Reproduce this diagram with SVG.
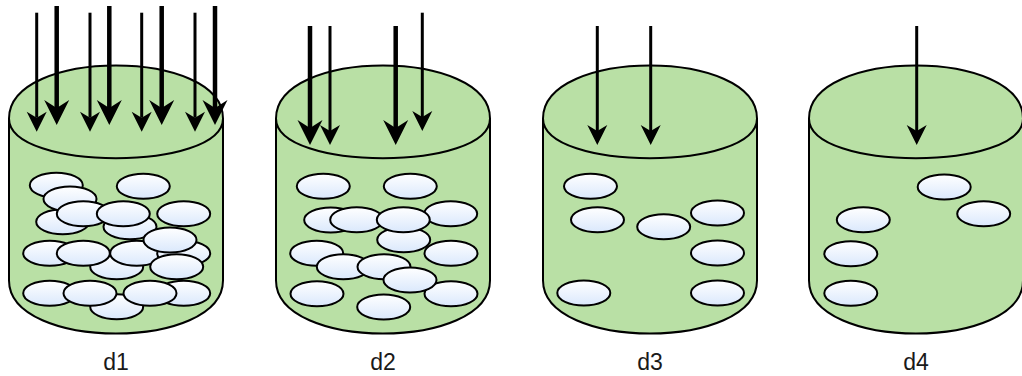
<svg xmlns="http://www.w3.org/2000/svg" xmlns:xlink="http://www.w3.org/1999/xlink" width="1022" height="376" viewBox="0 0 1022 376">
  <style>
    .tank { fill: #B9E0A5; stroke: #000000; stroke-width: 2; }
    .rim { fill: none; stroke: #000000; stroke-width: 2; }
    .pill { fill: url(#pillFill); stroke: #000000; stroke-width: 2; }
    .label { font-family: "Liberation Sans", Arial, sans-serif; font-size: 23px; fill: #1a1a1a; text-anchor: middle; }
    .thin { stroke: #000000; stroke-width: 3; fill: none; marker-end: url(#headThin); }
    .thick { stroke: #000000; stroke-width: 4.5; fill: none; marker-end: url(#headThick); }
  </style>
  <defs>
    <linearGradient id="pillFill" x1="0" y1="0" x2="0" y2="1">
      <stop offset="0" stop-color="#FFFFFF"/>
      <stop offset="1" stop-color="#DAE8FC"/>
    </linearGradient>
    <!-- small particle -->
    <ellipse id="p" class="pill" cx="0" cy="0" rx="26.5" ry="12.5"/>
    <!-- cylinder body: 214 x 268, cap depth 53 -->
    <path id="body" class="tank" d="M0,53 C0,-17.7 214,-17.7 214,53 L214,215 C214,285.7 0,285.7 0,215 Z"/>
    <path id="cap" class="rim" d="M0,53 C0,106 214,106 214,53"/>
    <!-- arrowheads; the reference point is the notch so the shaft ends there -->
    <marker id="headThin" markerUnits="userSpaceOnUse" orient="auto" refX="0" refY="0" markerWidth="30" markerHeight="30" overflow="visible">
      <path d="M14,0 L-6,-10 L0,0 L-6,10 Z" fill="#000000"/>
    </marker>
    <marker id="headThick" markerUnits="userSpaceOnUse" orient="auto" refX="0" refY="0" markerWidth="30" markerHeight="30" overflow="visible">
      <path d="M17,0 L-8,-12.5 L0,0 L-8,12.5 Z" fill="#000000"/>
    </marker>
  </defs>

  <g id="d1">
    <g transform="translate(9,65.5)">
      <use href="#body"/>
      <use href="#cap"/>
    </g>
    <use href="#p" x="56.3" y="185.3"/>
    <use href="#p" x="62.7" y="221.7"/>
    <use href="#p" x="70" y="199"/>
    <use href="#p" x="83.3" y="213.8"/>
    <use href="#p" x="143.3" y="186.2"/>
    <use href="#p" x="130" y="226.7"/>
    <use href="#p" x="123.3" y="213.8"/>
    <use href="#p" x="183.7" y="213.8"/>
    <use href="#p" x="49.7" y="253.3"/>
    <use href="#p" x="116.7" y="266.7"/>
    <use href="#p" x="83.3" y="253.3"/>
    <use href="#p" x="136.7" y="253.3"/>
    <use href="#p" x="183.7" y="253.3"/>
    <use href="#p" x="170" y="240"/>
    <use href="#p" x="176.7" y="266.7"/>
    <use href="#p" x="49.7" y="293.3"/>
    <use href="#p" x="116.7" y="306.7"/>
    <use href="#p" x="183.7" y="293.3"/>
    <use href="#p" x="90" y="293.3"/>
    <use href="#p" x="150" y="293.3"/>
    <text class="label" x="116" y="370">d1</text>
  </g>

  <g id="d2">
    <g transform="translate(276,65.5)">
      <use href="#body"/>
      <use href="#cap"/>
    </g>
    <use href="#p" x="323.3" y="186.2"/>
    <use href="#p" x="410.3" y="186.2"/>
    <use href="#p" x="330.7" y="220"/>
    <use href="#p" x="356.7" y="219.7"/>
    <use href="#p" x="450.7" y="213.7"/>
    <use href="#p" x="403.7" y="239.7"/>
    <use href="#p" x="403.3" y="219.7"/>
    <use href="#p" x="316.7" y="253.3"/>
    <use href="#p" x="451" y="253.3"/>
    <use href="#p" x="343.3" y="266.7"/>
    <use href="#p" x="384" y="266.7"/>
    <use href="#p" x="317" y="293.7"/>
    <use href="#p" x="451" y="293.7"/>
    <use href="#p" x="410" y="280"/>
    <use href="#p" x="383.7" y="307"/>
    <text class="label" x="383" y="370">d2</text>
  </g>

  <g id="d3">
    <g transform="translate(543,65.5)">
      <use href="#body"/>
      <use href="#cap"/>
    </g>
    <use href="#p" x="590.5" y="186.3"/>
    <use href="#p" x="597.5" y="219.7"/>
    <use href="#p" x="663.7" y="226.7"/>
    <use href="#p" x="717.5" y="213"/>
    <use href="#p" x="717.5" y="253"/>
    <use href="#p" x="583.8" y="293"/>
    <use href="#p" x="717.5" y="293"/>
    <text class="label" x="650" y="370">d3</text>
  </g>

  <g id="d4">
    <g transform="translate(809,65.5)">
      <use href="#body"/>
      <use href="#cap"/>
    </g>
    <use href="#p" x="944.2" y="187"/>
    <use href="#p" x="983.7" y="213.7"/>
    <use href="#p" x="863.3" y="219.7"/>
    <use href="#p" x="850.8" y="253.7"/>
    <use href="#p" x="850.8" y="293.3"/>
    <text class="label" x="916" y="370">d4</text>
  </g>

  <g id="connectors">
    <!-- d1 -->
    <line class="thin" x1="36.7" y1="12.7" x2="36.7" y2="117.7"/>
    <line class="thick" x1="56.7" y1="6" x2="56.7" y2="108"/>
    <line class="thin" x1="90" y1="12.7" x2="90" y2="117.7"/>
    <line class="thick" x1="109.3" y1="6" x2="109.3" y2="108"/>
    <line class="thin" x1="141.7" y1="12.7" x2="141.7" y2="117.7"/>
    <line class="thick" x1="161.7" y1="6" x2="161.7" y2="108"/>
    <line class="thin" x1="195" y1="12.7" x2="195" y2="117.7"/>
    <line class="thick" x1="215" y1="6" x2="215" y2="108"/>
    <!-- d2 -->
    <line class="thick" x1="310" y1="26" x2="310" y2="128"/>
    <line class="thin" x1="330" y1="26" x2="330" y2="131"/>
    <line class="thick" x1="395.7" y1="26" x2="395.7" y2="128"/>
    <line class="thin" x1="422.3" y1="12.7" x2="422.3" y2="117"/>
    <!-- d3 -->
    <line class="thin" x1="597.3" y1="26" x2="597.3" y2="131"/>
    <line class="thin" x1="650.7" y1="26" x2="650.7" y2="131"/>
    <!-- d4 -->
    <line class="thin" x1="916.7" y1="26" x2="916.7" y2="131"/>
  </g>
</svg>
